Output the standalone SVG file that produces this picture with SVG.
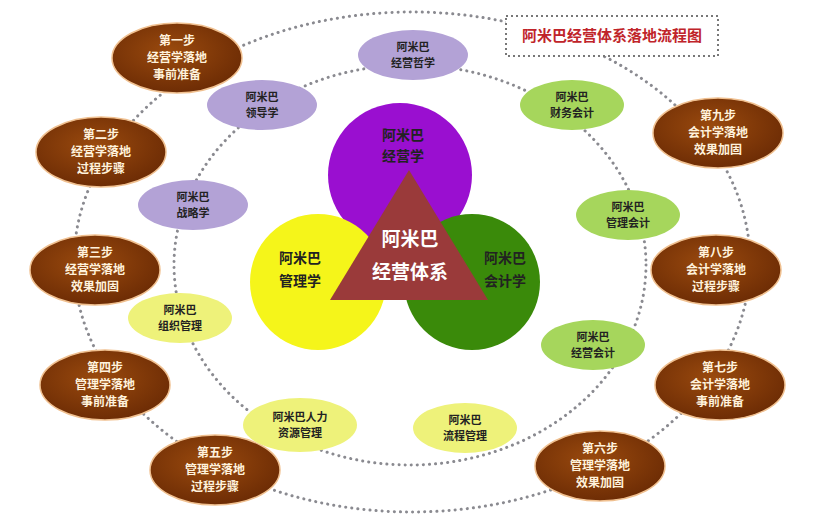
<svg xmlns="http://www.w3.org/2000/svg" width="824" height="520" viewBox="0 0 824 520">
<defs>
<radialGradient id="br" cx="45%" cy="40%" r="65%"><stop offset="0" stop-color="#9a4a0e"/><stop offset="1" stop-color="#6a2a04"/></radialGradient>
<style>
.dot{fill:none;stroke:#8a8a90;stroke-width:3;stroke-dasharray:0.1 6;stroke-linecap:round}
.brown{fill:url(#br);stroke:#f0c090;stroke-width:1.5}
.lav{fill:#b3a2d6}
.lg{fill:#a6d65c}
.yg{fill:#eef27a}
text{font-family:"Noto Sans CJK SC","Noto Sans",sans-serif;text-anchor:middle;font-weight:bold}
.w{fill:#fff2dc;font-size:12px}
.k{fill:#222;font-size:11px}
.big{fill:#222;font-size:14px}
</style>
</defs>
<rect width="824" height="520" fill="#fff"/>
<g id="connectors">
<ellipse class="dot" cx="412" cy="262" rx="338" ry="250"/>
<ellipse class="dot" cx="410" cy="265" rx="236" ry="200"/>
</g>
<g id="title"><rect x="506" y="16" width="212" height="40" fill="#fff" stroke="#777" stroke-width="2" stroke-dasharray="2 3"/>
<text x="612" y="41" style="fill:#c0242a;font-size:15px">阿米巴经营体系落地流程图</text></g>
<g id="core">
<circle cx="400" cy="175" r="72" fill="#9a0fd0"/>
<circle cx="318" cy="282" r="68" fill="#f5f51a"/>
<circle cx="472" cy="282" r="68" fill="#3a8a0a"/>
<text class="big" x="403" y="140">阿米巴</text><text class="big" x="403" y="161">经营学</text>
<text class="big" x="300" y="263">阿米巴</text><text class="big" x="300" y="286">管理学</text>
<text class="big" x="505" y="263">阿米巴</text><text class="big" x="505" y="286">会计学</text>
<polygon points="409,170 330,300 488,300" fill="#9a3a3a"/>
<text x="410" y="246" style="fill:#fff;font-size:19px">阿米巴</text>
<text x="410" y="279" style="fill:#fff;font-size:19px">经营体系</text>
</g>
<g id="n1"><ellipse class="brown" cx="177" cy="58" rx="65" ry="35"/><text class="w" x="177" y="45">第一步</text><text class="w" x="177" y="62">经营学落地</text><text class="w" x="177" y="79">事前准备</text></g>
<g id="n2"><ellipse class="brown" cx="101" cy="152" rx="65" ry="35"/><text class="w" x="101" y="139">第二步</text><text class="w" x="101" y="156">经营学落地</text><text class="w" x="101" y="173">过程步骤</text></g>
<g id="n3"><ellipse class="brown" cx="95" cy="270" rx="65" ry="35"/><text class="w" x="95" y="257">第三步</text><text class="w" x="95" y="274">经营学落地</text><text class="w" x="95" y="291">效果加固</text></g>
<g id="n4"><ellipse class="brown" cx="105" cy="385" rx="65" ry="35"/><text class="w" x="105" y="372">第四步</text><text class="w" x="105" y="389">管理学落地</text><text class="w" x="105" y="406">事前准备</text></g>
<g id="n5"><ellipse class="brown" cx="215" cy="470" rx="65" ry="35"/><text class="w" x="215" y="457">第五步</text><text class="w" x="215" y="474">管理学落地</text><text class="w" x="215" y="491">过程步骤</text></g>
<g id="n6"><ellipse class="brown" cx="600" cy="466" rx="65" ry="35"/><text class="w" x="600" y="453">第六步</text><text class="w" x="600" y="470">管理学落地</text><text class="w" x="600" y="487">效果加固</text></g>
<g id="n7"><ellipse class="brown" cx="720" cy="385" rx="65" ry="35"/><text class="w" x="720" y="372">第七步</text><text class="w" x="720" y="389">会计学落地</text><text class="w" x="720" y="406">事前准备</text></g>
<g id="n8"><ellipse class="brown" cx="716" cy="270" rx="65" ry="35"/><text class="w" x="716" y="257">第八步</text><text class="w" x="716" y="274">会计学落地</text><text class="w" x="716" y="291">过程步骤</text></g>
<g id="n9"><ellipse class="brown" cx="718" cy="133" rx="65" ry="35"/><text class="w" x="718" y="120">第九步</text><text class="w" x="718" y="137">会计学落地</text><text class="w" x="718" y="154">效果加固</text></g>
<g id="l1"><ellipse class="lav" cx="413" cy="55" rx="55" ry="25"/><text class="k" x="413" y="51">阿米巴</text><text class="k" x="413" y="67">经营哲学</text></g>
<g id="l2"><ellipse class="lav" cx="262" cy="105" rx="55" ry="25"/><text class="k" x="262" y="101">阿米巴</text><text class="k" x="262" y="117">领导学</text></g>
<g id="l3"><ellipse class="lav" cx="193" cy="205" rx="55" ry="25"/><text class="k" x="193" y="201">阿米巴</text><text class="k" x="193" y="217">战略学</text></g>
<g id="y1"><ellipse class="yg" cx="180" cy="318" rx="52" ry="25"/><text class="k" x="180" y="314">阿米巴</text><text class="k" x="180" y="330">组织管理</text></g>
<g id="y2"><ellipse class="yg" cx="300" cy="425" rx="57" ry="27"/><text class="k" x="300" y="421">阿米巴人力</text><text class="k" x="300" y="437">资源管理</text></g>
<g id="y3"><ellipse class="yg" cx="465" cy="428" rx="52" ry="25"/><text class="k" x="465" y="424">阿米巴</text><text class="k" x="465" y="440">流程管理</text></g>
<g id="g1"><ellipse class="lg" cx="572" cy="105" rx="52" ry="25"/><text class="k" x="572" y="101">阿米巴</text><text class="k" x="572" y="117">财务会计</text></g>
<g id="g2"><ellipse class="lg" cx="628" cy="215" rx="52" ry="25"/><text class="k" x="628" y="211">阿米巴</text><text class="k" x="628" y="227">管理会计</text></g>
<g id="g3"><ellipse class="lg" cx="593" cy="345" rx="52" ry="25"/><text class="k" x="593" y="341">阿米巴</text><text class="k" x="593" y="357">经营会计</text></g>
</svg>
